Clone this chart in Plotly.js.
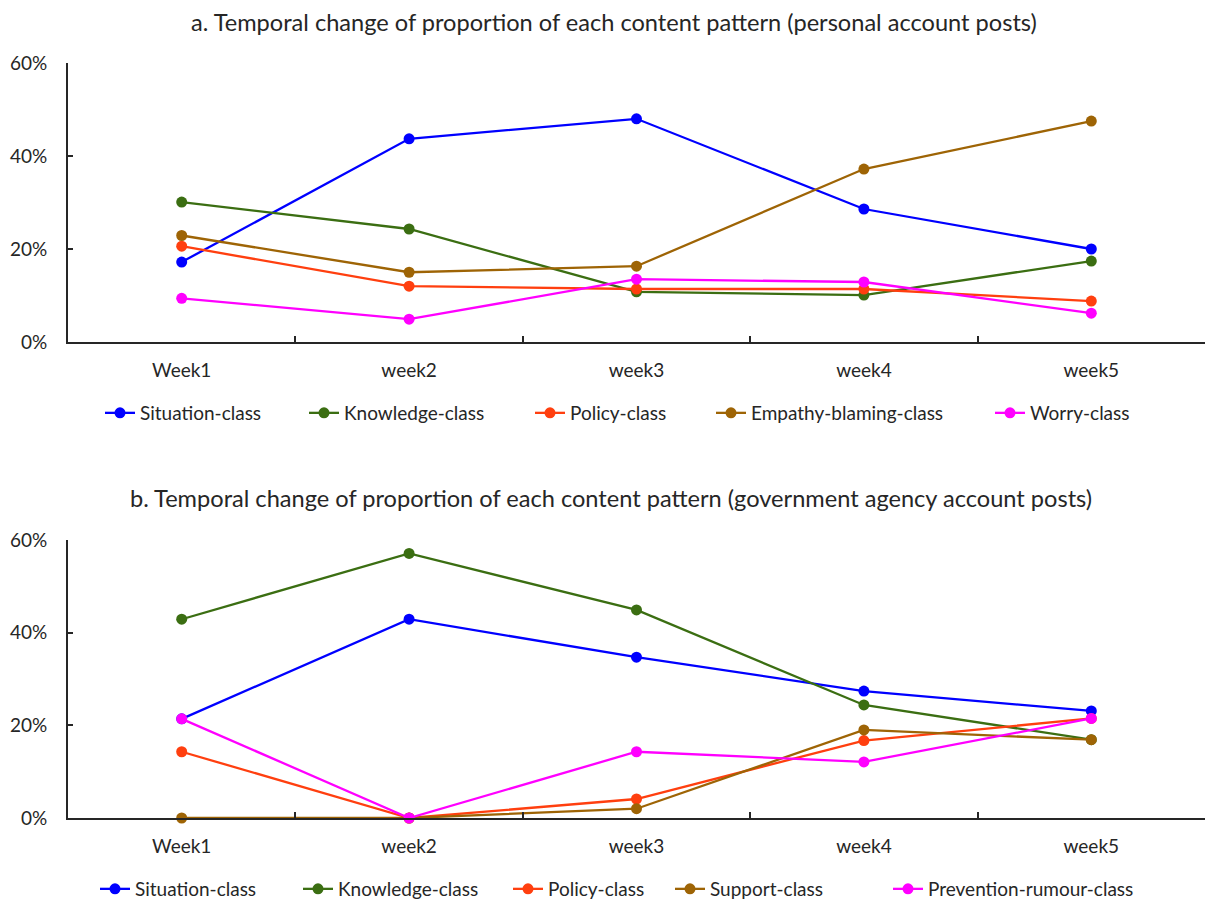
<!DOCTYPE html>
<html>
<head>
<meta charset="utf-8">
<script src="https://cdn.plot.ly/plotly-3.0.1.min.js"></script>
<style>html,body{margin:0;padding:0;background:#fff;}#chart{width:1205px;height:901px;}</style>
</head>
<body>
<div id="chart"></div>
<script>
const weeks = ["Week1", "week2", "week3", "week4", "week5"];

// a. personal account posts (proportions, %)
const personalSituation = [17.2, 43.7, 48.0, 28.6, 20.0];
const personalKnowledge = [30.1, 24.3, 10.8, 10.1, 17.4];
const personalPolicy = [20.6, 12.0, 11.4, 11.4, 8.8];
const personalEmpathy = [22.9, 15.0, 16.3, 37.2, 47.5];
const personalWorry = [9.4, 4.9, 13.5, 12.9, 6.2];

// b. government agency account posts (proportions, %)
const govSituation = [21.4, 42.9, 34.7, 27.4, 23.1];
const govKnowledge = [42.9, 57.1, 44.9, 24.4, 16.9];
const govPolicy = [14.3, 0, 4.1, 16.7, 21.5];
const govSupport = [0, 0, 2.0, 19.0, 16.9];
const govPrevention = [21.4, 0, 14.3, 12.1, 21.5];

const colors = {
  situation: "#0000FF",
  knowledge: "#3B6E12",
  policy: "#FF3F0F",
  brown: "#9E6405",
  magenta: "#FF00FF"
};

function tr(name, y, color, xa, ya, legend) {
  return {
    type: "scatter", mode: "lines+markers", name: name,
    x: weeks, y: y, xaxis: xa, yaxis: ya, legend: legend,
    line: {color: color, width: 2.3},
    marker: {color: color, size: 11},
    cliponaxis: false
  };
}

const data = [
  tr("Situation-class", personalSituation, colors.situation, "x", "y", "legend"),
  tr("Knowledge-class", personalKnowledge, colors.knowledge, "x", "y", "legend2"),
  tr("Policy-class", personalPolicy, colors.policy, "x", "y", "legend3"),
  tr("Empathy-blaming-class", personalEmpathy, colors.brown, "x", "y", "legend4"),
  tr("Worry-class", personalWorry, colors.magenta, "x", "y", "legend5"),
  tr("Situation-class", govSituation, colors.situation, "x2", "y2", "legend6"),
  tr("Knowledge-class", govKnowledge, colors.knowledge, "x2", "y2", "legend7"),
  tr("Policy-class", govPolicy, colors.policy, "x2", "y2", "legend8"),
  tr("Support-class", govSupport, colors.brown, "x2", "y2", "legend9"),
  tr("Prevention-rumour-class", govPrevention, colors.magenta, "x2", "y2", "legend10")
];

const fontFam = "Lato, sans-serif";
const txtColor = "#262626";

function xAxis(anchor) {
  return {
    anchor: anchor, domain: [0, 1], type: "category",
    showline: true, linecolor: "#262626", linewidth: 2,
    ticks: "inside", ticklen: 6, tickwidth: 2, tickcolor: "#262626",
    tickson: "boundaries", showgrid: false, zeroline: false,
    ticklabelstandoff: 10,
    tickfont: {family: fontFam, size: 19, color: txtColor},
    range: [-0.5, 4.5], automargin: false
  };
}
function yAxis(anchor, domain) {
  return {
    anchor: anchor, domain: domain, range: [0, 60],
    tickvals: [0, 20, 40, 60], ticktext: ["0%", "20%", "40%", "60%"],
    showline: true, linecolor: "#262626", linewidth: 2,
    ticks: "inside", ticklen: 5, tickwidth: 2, tickcolor: "#262626",
    showgrid: false, zeroline: false, automargin: false,
    ticklabelstandoff: 15,
    tickfont: {family: fontFam, size: 19, color: txtColor}
  };
}

const H = 901;
const L = 68, PW = 1137;
// text start positions of the legend entries (px) used to place each single-entry legend
const legendTextX = [140, 344, 570, 751, 1030, 135, 338, 548, 710, 928];
const legendRowY = [413, 413, 413, 413, 413, 889, 889, 889, 889, 889];

const layout = {
  width: 1205, height: 901,
  margin: {l: L, r: 0, t: 0, b: 0, autoexpand: false},
  paper_bgcolor: "#fff", plot_bgcolor: "#fff",
  font: {family: fontFam, color: txtColor},
  showlegend: true,
  xaxis: xAxis("y"),
  yaxis: yAxis("x", [1 - 342 / H, 1 - 63 / H]),
  xaxis2: xAxis("y2"),
  yaxis2: yAxis("x2", [1 - 818 / H, 1 - 540 / H]),
  annotations: [
    {text: "a. Temporal change of proportion of each content pattern (personal account posts)",
     xref: "paper", yref: "paper", x: 0.48, y: 1 - 22 / H, xanchor: "center", yanchor: "middle",
     showarrow: false, font: {family: fontFam, size: 23.6, color: txtColor}},
    {text: "b. Temporal change of proportion of each content pattern (government agency account posts)",
     xref: "paper", yref: "paper", x: 0.478, y: 1 - 498 / H, xanchor: "center", yanchor: "middle",
     showarrow: false, font: {family: fontFam, size: 23.6, color: txtColor}}
  ]
};

legendTextX.forEach((tx, i) => {
  const key = i === 0 ? "legend" : "legend" + (i + 1);
  layout[key] = {
    orientation: "h",
    x: (tx - 40 - L) / PW, xanchor: "left",
    y: 1 - legendRowY[i] / H, yanchor: "middle",
    font: {family: fontFam, size: 19, color: txtColor},
    bgcolor: "rgba(0,0,0,0)", borderwidth: 0
  };
});

Plotly.newPlot("chart", data, layout, {displayModeBar: false, staticPlot: true});
</script>
</body>
</html>
